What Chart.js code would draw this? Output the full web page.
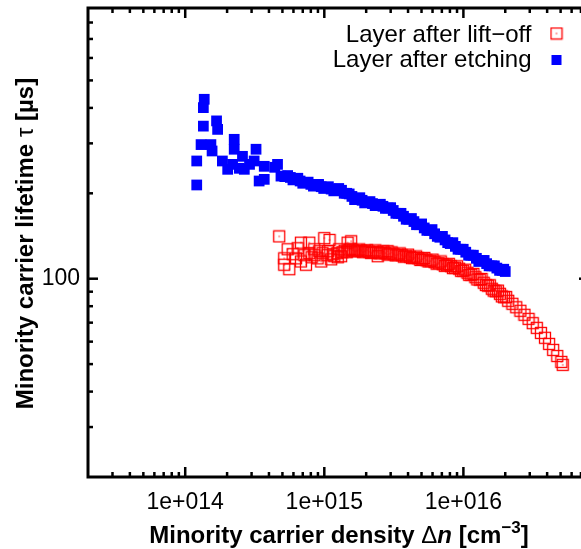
<!DOCTYPE html>
<html><head><meta charset="utf-8">
<script src="https://cdn.jsdelivr.net/npm/chart.js@4"></script>
<style>html,body{margin:0;padding:0;overflow:hidden;background:#fff;width:581px;height:549px}canvas{display:block}</style>
</head><body><canvas id="c" width="600" height="549" style="width:600px;height:549px"></canvas>
<script>
// ---------------- data ----------------
const seriesLabels = ['Layer after lift\u2212off', 'Layer after etching'];
const xTitle = 'Minority carrier density';
const yTitle = 'Minority carrier lifetime';

const liftoffDensity = [
  4.74e14, 5.15e14, 5.15e14, 5.45e14, 5.60e14, 5.92e14, 6.26e14, 6.43e14, 6.79e14, 6.79e14,
  7.20e14, 7.38e14, 7.80e14, 7.80e14, 8.10e14, 8.47e14, 8.95e14, 9.20e14, 9.50e14, 1.00e15,
  1.06e15, 1.09e15, 1.12e15, 1.18e15, 1.24e15, 1.28e15, 1.32e15, 1.47e15, 1.56e15, 2.42e15, 2.85e15,
  8.50e14, 9.70e14, 1.05e15, 1.15e15, 1.25e15, 1.35e15,
  1.40e15, 1.50e15, 1.60e15, 1.72e15, 1.84e15, 1.96e15, 2.10e15, 2.25e15, 2.41e15, 2.57e15,
  2.75e15, 2.95e15, 3.15e15, 3.37e15, 3.61e15, 3.86e15, 4.13e15, 4.42e15, 4.73e15, 5.06e15,
  5.42e15, 5.80e15, 6.20e15, 6.64e15, 7.10e15, 7.60e15, 8.13e15, 8.70e15, 9.31e15, 9.96e15,
  1.07e16, 1.14e16, 1.22e16, 1.31e16, 1.40e16, 1.50e16, 1.60e16, 1.71e16, 1.83e16, 1.96e16,
  2.10e16, 2.25e16, 2.40e16, 2.57e16, 2.75e16, 2.94e16, 3.15e16, 3.37e16, 3.61e16, 3.86e16,
  4.13e16, 4.42e16, 4.73e16, 5.06e16, 5.18e16,
  1.45e15, 1.55e15, 1.66e15, 1.78e15, 1.90e15, 2.03e15, 2.17e15, 2.33e15, 2.49e15, 2.66e15,
  2.85e15, 3.05e15, 3.26e15, 3.49e15, 3.73e15, 4.00e15, 4.27e15, 4.57e15, 4.90e15, 5.24e15,
  5.61e15, 6.00e15, 6.42e15, 6.87e15, 7.35e15, 7.86e15, 8.41e15, 9.00e15, 9.63e15, 1.03e16,
  1.10e16, 1.18e16, 1.26e16, 1.35e16, 1.45e16, 1.55e16, 1.65e16, 1.77e16, 1.89e16, 2.03e16
];
const liftoffLifetime = [
  141, 118, 112, 127, 108, 122, 118, 128, 134, 115,
  121, 112, 134, 123, 119, 127, 118, 125, 115, 139,
  125, 137, 117, 120, 123, 127, 120, 134, 135.5, 120, 125,
  121, 123, 121, 122, 119, 124,
  125.5, 126, 126, 125.5, 125.5, 125, 124.5, 124.5, 124, 123.5,
  123, 122.5, 122, 121.5, 121, 120, 119.5, 118.6, 118.1, 117.2,
  116.2, 115.3, 114.4, 113.4, 112.5, 111.6, 110.7, 109.4, 108.5, 106.7,
  105.0, 103.3, 101.2, 99.2, 96.8, 94.5, 92.2, 90.3, 88.5, 86.0,
  83.6, 81.6, 79.3, 77.1, 74.6, 72.2, 69.7, 67.1, 64.4, 61.9,
  58.9, 56.1, 53.4, 50.9, 49.7,
  124.0, 127.5, 124.8, 126.8, 124.0, 126.0, 123.2, 125.8, 122.8, 124.8,
  121.6, 123.8, 120.8, 122.8, 119.6, 121.6, 118.2, 119.8, 116.4, 118.4,
  115.0, 116.8, 113.0, 115.0, 111.0, 112.8, 109.0, 110.6, 106.6, 107.6,
  103.2, 104.0, 99.4, 99.8, 95.0, 94.8, 90.8, 90.8, 86.6, 86.2
];

const etchDensity = [
  1.21e14, 1.21e14, 1.30e14, 1.35e14, 1.35e14, 1.37e14, 1.53e14, 1.56e14, 1.68e14, 1.71e14,
  1.85e14, 2.02e14, 2.19e14, 2.25e14, 2.25e14, 2.45e14, 2.58e14, 2.66e14, 2.90e14, 3.13e14,
  3.23e14, 3.40e14, 3.70e14, 3.70e14, 4.40e14, 4.61e14, 4.88e14,
  5.2e14, 5.7e14, 6.2e14, 6.7e14, 7.3e14, 8.0e14, 8.7e14, 9.5e14, 1.03e15, 1.12e15,
  1.22e15, 1.33e15, 1.45e15, 1.58e15, 1.72e15, 1.87e15, 2.04e15, 2.22e15, 2.42e15, 2.64e15,
  2.87e15, 3.13e15, 3.41e15, 3.71e15, 4.05e15, 4.41e15, 4.80e15, 5.23e15, 5.70e15, 6.21e15,
  6.77e15, 7.38e15, 8.04e15, 8.76e15, 9.55e15, 1.04e16, 1.13e16, 1.24e16, 1.35e16, 1.47e16,
  1.60e16, 1.74e16, 1.90e16, 2.0e16,
  5.45e14, 5.95e14, 6.45e14, 7.0e14, 7.65e14, 8.35e14, 9.1e14, 9.9e14, 1.07e15, 1.17e15,
  1.27e15, 1.39e15, 1.51e15, 1.65e15, 1.80e15, 1.95e15, 2.13e15, 2.32e15, 2.53e15, 2.75e15,
  3.00e15, 3.27e15, 3.56e15, 3.88e15, 4.23e15, 4.60e15, 5.01e15, 5.46e15, 5.95e15, 6.49e15,
  7.07e15, 7.71e15, 8.40e15, 9.15e15, 9.97e15, 1.09e16, 1.18e16, 1.29e16, 1.41e16, 1.53e16,
  1.67e16, 1.82e16, 1.95e16
];
const etchLifetime = [
  214, 260, 297, 345, 401, 429, 297, 282, 360, 336,
  260, 243, 253, 310, 286, 245, 270, 243, 253, 260,
  286, 221, 249, 224, 247, 253, 230,
  229, 227.5, 224, 221, 218, 215, 213, 211, 210, 207,
  206, 205, 200, 195, 192, 189, 186, 184, 182, 180,
  177.5, 174, 170, 166, 162, 159, 155, 151, 148, 144,
  140, 137, 133, 130, 127, 124, 121, 118, 116, 113,
  111, 109, 107, 106,
  231, 223, 226, 217, 219, 212, 215, 208, 211, 204,
  208, 200, 199, 190, 193, 185, 187, 181, 183, 177,
  178, 170, 170, 162, 163, 155, 156, 148, 149, 141,
  141, 134, 134, 127, 127, 121, 121, 115, 116, 111,
  111, 107, 108
];

const xRange = [2e13, 8e16];
const yRange = [20, 900];
const xMajorTicks = [1e14, 1e15, 1e16];
const xMajorLabels = ['1e+014', '1e+015', '1e+016'];
const xMinorTicks = [3e13,4e13,5e13,6e13,7e13,8e13,9e13,
  2e14,3e14,4e14,5e14,6e14,7e14,8e14,9e14,
  2e15,3e15,4e15,5e15,6e15,7e15,8e15,9e15,
  2e16,3e16,4e16,5e16,6e16,7e16];
const yMajorTicks = [100];
const yMajorLabels = ['100'];
const yMinorTicks = [30,40,50,60,70,80,90,200,300,400,500,600,700,800];

// ---------------- styling ----------------
const FONT = '"Liberation Sans", Arial, Helvetica, sans-serif';
const RED = '#ff0000', BLUE = '#0000ff';

function openSquareDot(color) {
  const c = document.createElement('canvas');
  c.width = 14; c.height = 14;
  const g = c.getContext('2d');
  g.strokeStyle = color; g.lineWidth = 1.3;
  g.strokeRect(1.5, 1.5, 11, 11);
  g.fillStyle = color;
  g.fillRect(6.4, 6.4, 1.2, 1.2);
  return c;
}
const redMarker = openSquareDot(RED);

const liftoffData = liftoffDensity.map((x, i) => ({x, y: liftoffLifetime[i]}));
const etchData = etchDensity.map((x, i) => ({x, y: etchLifetime[i]}));

const framePlugin = {
  id: 'frame',
  afterDatasetsDraw(chart) {
    const {ctx, chartArea: a, scales: {x, y}} = chart;
    ctx.save();
    ctx.strokeStyle = '#000';
    ctx.lineWidth = 2.5;
    ctx.lineCap = 'butt';
    const seg = (x1, y1, x2, y2) => { ctx.beginPath(); ctx.moveTo(x1, y1); ctx.lineTo(x2, y2); ctx.stroke(); };
    const MAJ = 10, MIN = 5;
    xMajorTicks.forEach(v => { const p = x.getPixelForValue(v); seg(p, a.bottom, p, a.bottom - MAJ); seg(p, a.top, p, a.top + MAJ); });
    xMinorTicks.forEach(v => { const p = x.getPixelForValue(v); seg(p, a.bottom, p, a.bottom - MIN); seg(p, a.top, p, a.top + MIN); });
    yMajorTicks.forEach(v => { const p = y.getPixelForValue(v); seg(a.left, p, a.left + MAJ, p); seg(a.right, p, a.right - MAJ, p); });
    yMinorTicks.forEach(v => { const p = y.getPixelForValue(v); seg(a.left, p, a.left + MIN, p); seg(a.right, p, a.right - MIN, p); });
    ctx.lineWidth = 3;
    ctx.strokeRect(a.left, a.top, a.right - a.left, a.bottom - a.top);
    ctx.restore();
  }
};

const textPlugin = {
  id: 'texts',
  afterDraw(chart) {
    const ctx = chart.ctx;
    ctx.save();
    ctx.fillStyle = '#000';
    ctx.textBaseline = 'alphabetic';
    const B = 'bold 24px ' + FONT, N = '24px ' + FONT, BI = 'italic bold 24px ' + FONT, SUP = 'bold 17px ' + FONT;
    const xParts = [
      [xTitle + ' ', B, 0], ['\u0394', N, 0], ['n', BI, 0], [' [cm', B, 0], ['\u22123', SUP, -10], [']', B, 0]
    ];
    let w = 0;
    xParts.forEach(p => { ctx.font = p[1]; w += ctx.measureText(p[0]).width; });
    let cx = 339 - w / 2;
    const by = 543;
    xParts.forEach(p => { ctx.font = p[1]; ctx.textAlign = 'left'; ctx.fillText(p[0], cx, by + p[2]); cx += ctx.measureText(p[0]).width; });
    const yParts = [[yTitle + ' ', B], ['\u03c4', N], [' [\u00b5s]', B]];
    w = 0;
    yParts.forEach(p => { ctx.font = p[1]; w += ctx.measureText(p[0]).width; });
    ctx.translate(33, 243.5);
    ctx.rotate(-Math.PI / 2);
    cx = -w / 2;
    yParts.forEach(p => { ctx.font = p[1]; ctx.textAlign = 'left'; ctx.fillText(p[0], cx, 0); cx += ctx.measureText(p[0]).width; });
    ctx.restore();

    ctx.save();
    ctx.font = '24px ' + FONT;
    ctx.fillStyle = '#000';
    ctx.textAlign = 'right';
    ctx.textBaseline = 'alphabetic';
    chart.data.datasets.forEach((ds, i) => {
      const ty = 41.5 + 25.5 * i;
      const sy = 33.5 + 26.5 * i;
      ctx.fillText(ds.label, 531.5, ty);
      if (i === 0) {
        ctx.drawImage(redMarker, 556.5 - 7, sy - 7);
      } else {
        ctx.fillStyle = BLUE;
        ctx.fillRect(556.5 - 5, sy - 5, 10, 10);
        ctx.fillStyle = '#000';
      }
    });
    ctx.restore();
  }
};

function zeroPad(s) { s.paddingTop = 0; s.paddingBottom = 0; s.paddingLeft = 0; s.paddingRight = 0; }

new Chart(document.getElementById('c'), {
  type: 'scatter',
  data: {
    datasets: [
      { label: seriesLabels[0], data: liftoffData, pointStyle: redMarker, borderColor: RED, backgroundColor: RED, showLine: false },
      { label: seriesLabels[1], data: etchData, pointStyle: 'rect', pointRadius: 7.6, borderWidth: 0, borderColor: BLUE, backgroundColor: BLUE, showLine: false }
    ]
  },
  options: {
    responsive: false,
    animation: false,
    events: [],
    layout: { padding: { left: 0, top: 8, right: 11, bottom: 0 } },
    plugins: { legend: { display: false }, tooltip: { enabled: false }, title: { display: false } },
    scales: {
      x: {
        type: 'logarithmic', position: 'bottom', min: xRange[0], max: xRange[1],
        grid: { display: false, drawTicks: false }, border: { display: false },
        afterBuildTicks: s => { s.ticks = xMajorTicks.map(v => ({ value: v, major: true })); },
        afterFit: s => { s.height = 72; zeroPad(s); },
        ticks: { autoSkip: false, maxRotation: 0, padding: 12, color: '#000', font: { family: FONT, size: 23 },
          callback: (v, i) => xMajorLabels[i] }
      },
      y: {
        type: 'logarithmic', position: 'left', min: yRange[0], max: yRange[1],
        grid: { display: false, drawTicks: false }, border: { display: false },
        afterBuildTicks: s => { s.ticks = yMajorTicks.map(v => ({ value: v, major: true })); },
        afterFit: s => { s.width = 88; zeroPad(s); },
        ticks: { autoSkip: false, padding: 8, color: '#000', font: { family: FONT, size: 23 },
          callback: (v, i) => yMajorLabels[i] }
      }
    }
  },
  plugins: [framePlugin, textPlugin]
});
</script>
</body></html>
